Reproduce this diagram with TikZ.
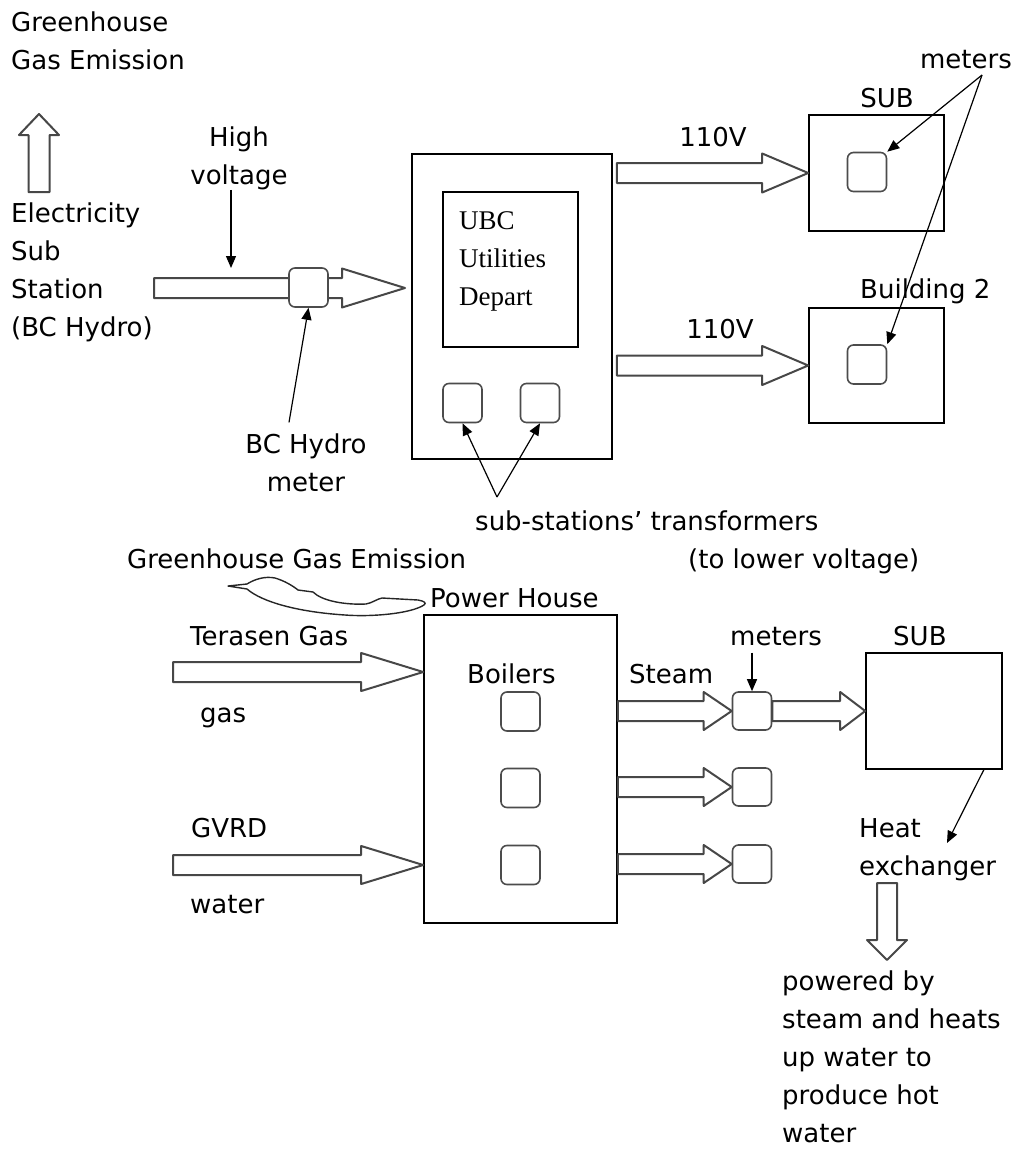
\documentclass[tikz,border=0pt]{standalone}
\usepackage{fontspec}
\setmainfont{DejaVu Sans}
\newfontfamily\serifui{Liberation Serif}
\usepackage{tikz}
\usetikzlibrary{arrows.meta,calc}
\newcommand{\lblfont}{\fontsize{26}{38}\selectfont}
% block arrow: tail, tip, shaft half width, head half width, head length
\newcommand{\fatarrow}[5]{%
  \coordinate (fa-head) at ($(#2)!#5!(#1)$);
  \draw[fatline] ($(#1)!#3!90:(#2)$) -- ($(fa-head)!#3!90:(#2)$)
    -- ($(fa-head)!#4!90:(#2)$) -- (#2) -- ($(fa-head)!#4!-90:(#2)$)
    -- ($(fa-head)!#3!-90:(#2)$) -- ($(#1)!#3!-90:(#2)$) -- cycle;}

\begin{document}
\begin{tikzpicture}[
  x=1pt, y=-1pt,
  lbl/.style={font=\lblfont,inner sep=0pt,align=left},
  stack/.style={lbl},
  box/.style={draw,line width=1.6pt,fill=white,inner sep=0pt},
  meter/.style={draw=black!70,line width=1.6pt,rounded corners=6pt,fill=white,minimum width=39pt,minimum height=39pt,inner sep=0pt},
  fatline/.style={draw=black!72,line width=2pt,fill=white,line join=round},
  curvy/.style={draw=black!85,line width=1.4pt,fill=white,line join=round},
  arrow/.style={-{Triangle[length=12pt,width=10pt]},line width=1.2pt}
]
\useasboundingbox (0,0) rectangle (1020,1151);

% electricity part
\node[stack,anchor=north west] (ghg1) at (11,4.4) {\strut Greenhouse\\Gas Emission};
\node[stack,anchor=north west] (elec) at (11,195.4) {\strut Electricity\\Sub\\Station\\(BC Hydro)};
\coordinate (up-tail) at (39,192);
\coordinate (up-tip) at (39,114);
\fatarrow{up-tail}{up-tip}{10.5pt}{20pt}{21pt}

\coordinate (hv-tail) at (154,288);
\coordinate (hv-tip) at (405,288);
\fatarrow{hv-tail}{hv-tip}{10pt}{19.5pt}{63pt}
\node[meter] (hydrometer) at (308.5,287.5) {};
\node[stack,anchor=north,align=center] (highv) at (239,119.4) {\strut High\\voltage};
\coordinate (hv-in) at (231,268);
\draw[arrow] (highv.south -| hv-in) -- (hv-in);
\node[stack,anchor=north,align=center] (hydrolbl) at (306,426.4) {\strut BC Hydro\\meter};
\draw[arrow] ($(hydrolbl.north)+(-17,-4)$) -- (hydrometer.south);

\node[box,minimum width=200pt,minimum height=305pt] (ubc) at (512,306.5) {};
\node[box,minimum width=135pt,minimum height=155pt] (ubcin) at (510.5,269.5) {};
\node[stack,font=\serifui\fontsize{27}{38}\selectfont,anchor=north west] (ubctxt) at (459,202.4) {\strut UBC\\Utilities\\Depart};
\node[meter] (tr1) at (462.5,403) {};
\node[meter] (tr2) at (540,403) {};
\coordinate (tr-apex) at (497,497);
\draw[arrow] (tr-apex) -- (tr1.south);
\draw[arrow] (tr-apex) -- (tr2.south);
\node[lbl,anchor=base west] (trlbl) at (475,530) {sub-stations’ transformers};
\node[lbl,anchor=base west] (lowv) at (688,568) {(to lower voltage)};

\node[box,minimum width=135pt,minimum height=116pt] (sub1) at (876.5,173) {};
\node[meter] (m1) at (867,172) {};
\node[lbl,anchor=base] (sub1lbl) at (887,107) {SUB};
\node[box,minimum width=135pt,minimum height=115pt] (bld2) at (876.5,365.5) {};
\node[meter] (m2) at (867,364.5) {};
\node[lbl,anchor=base west] (bld2lbl) at (860,298) {Building 2};
\node[lbl,anchor=base] (mtrlbl) at (966,68) {meters};
\coordinate (mt-apex) at (982,75);
\draw[arrow] (mt-apex) -- (m1.north east);
\draw[arrow] (mt-apex) -- (m2.north east);

\coordinate (v1-tail) at ($(ubc.east |- sub1.west)+(4,0)$);
\fatarrow{v1-tail}{sub1.west}{10pt}{19.5pt}{46pt}
\node[lbl,anchor=base] (v1lbl) at (713,146) {110V};
\coordinate (v2-tail) at ($(ubc.east |- bld2.west)+(4,0)$);
\fatarrow{v2-tail}{bld2.west}{10pt}{19.5pt}{46pt}
\node[lbl,anchor=base] (v2lbl) at (720,338) {110V};

% steam part
\node[lbl,anchor=base west] (ghg2) at (127,568) {Greenhouse Gas Emission};
\draw[curvy] (228,586) -- (247,584) .. controls (255,579) and (265,576) .. (275,578)
  .. controls (285,581) and (293,586) .. (298,590) -- (313,592)
  .. controls (322,601) and (345,605) .. (366,604) .. controls (372,603) and (377,599) .. (382,598)
  -- (418,600) .. controls (424,601) and (427,603) .. (424,605)
  .. controls (410,614) and (370,617) .. (345,615) .. controls (298,612) and (262,602) .. (247,589) -- cycle;
\node[lbl,anchor=base west] (phlbl) at (430,607) {Power House};
\node[box,minimum width=193pt,minimum height=308pt] (ph) at (520.5,769) {};
\node[lbl,anchor=base west] (boil) at (467,683) {Boilers};
\node[meter] (b1) at (520.5,711.5) {};
\node[meter] (b2) at (520.5,788) {};
\node[meter] (b3) at (520.5,865) {};

\coordinate (gas-tail) at (173,672);
\coordinate (gas-tip) at (ph.west |- gas-tail);
\fatarrow{gas-tail}{gas-tip}{10pt}{19pt}{62pt}
\node[lbl,anchor=base west] (terlbl) at (190,645) {Terasen Gas};
\node[lbl,anchor=base west] (gaslbl) at (200,722) {gas};
\coordinate (wat-tail) at (173,865);
\coordinate (wat-tip) at (ph.west |- wat-tail);
\fatarrow{wat-tail}{wat-tip}{10pt}{19pt}{62pt}
\node[lbl,anchor=base west] (gvrd) at (191,837) {GVRD};
\node[lbl,anchor=base west] (watlbl) at (190,913) {water};

\node[meter,minimum height=38pt] (sm1) at (752,711) {};
\node[meter,minimum height=38pt] (sm2) at (752,787) {};
\node[meter,minimum height=38pt] (sm3) at (752,864) {};
\node[box,minimum width=136pt,minimum height=116pt] (sub3) at (934,711) {};
\coordinate (st1-tail) at (ph.east |- sm1.west);
\coordinate (st2-tail) at (ph.east |- sm2.west);
\coordinate (st3-tail) at (ph.east |- sm3.west);
\fatarrow{st1-tail}{sm1.west}{10pt}{19pt}{28pt}
\fatarrow{st2-tail}{sm2.west}{10pt}{19pt}{28pt}
\fatarrow{st3-tail}{sm3.west}{10pt}{19pt}{28pt}
\fatarrow{sm1.east}{sub3.west}{10pt}{19pt}{25pt}
\node[lbl,anchor=base west] (steam) at (629,683) {Steam};
\node[lbl,anchor=base west] (smlbl) at (730,645) {meters};
\draw[arrow] ($(smlbl.south -| sm1)+(0,7)$) -- (sm1.north);
\node[lbl,anchor=base west] (sub3lbl) at (893,645) {SUB};

\coordinate (heat-tip) at (947,843);
\draw[arrow] ($(sub3.south east)+(-19,0)$) -- (heat-tip);
\node[stack,anchor=north west] (heat) at (859,810.4) {\strut Heat\\exchanger};
\coordinate (dn-tail) at (887,883);
\coordinate (dn-tip) at (887,960);
\fatarrow{dn-tail}{dn-tip}{10pt}{20pt}{20pt}
\node[stack,anchor=north west] (powered) at (782,963.4) {\strut powered by\\steam and heats\\up water to\\produce hot\\water};
\end{tikzpicture}
\end{document}
